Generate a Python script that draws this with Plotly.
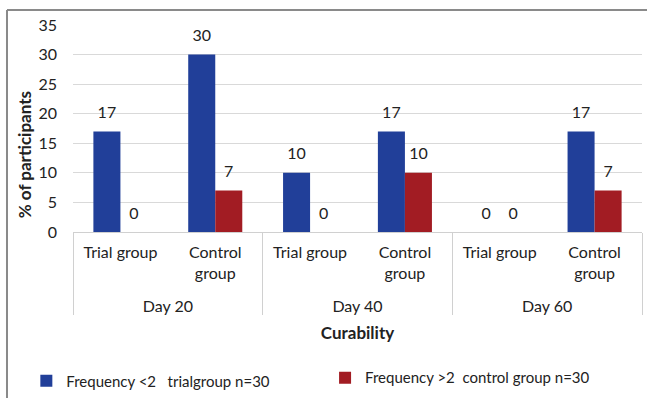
import plotly.graph_objects as go

days = ["Day 20", "Day 20", "Day 40", "Day 40", "Day 60", "Day 60"]
groups = ["Trial group", "Control<br>group"] * 3
freq_lt2 = [17, 30, 10, 17, 0, 17]
freq_gt2 = [0, 7, 0, 10, 0, 7]
series_names = ["Frequency &lt;2\u00a0\u00a0\u00a0trialgroup n=30",
                "Frequency &gt;2\u00a0\u00a0control group n=30"]
y_ticks = [0, 5, 10, 15, 20, 25, 30, 35]

BLUE = "#213F99"
RED = "#A21C23"
FONT = "Lato, 'Open Sans', sans-serif"
TXT = "#222"

# a near-invisible trailing line adds a little breathing room under a label
SPACER = "<br><span style='font-size:1px'>\u00a0</span>"


def bar_label(v):
    return f"<span style='font-size:16px'>{v}</span>{SPACER}"


group_labels = [g + SPACER if "<br>" in g else g for g in groups]

fig = go.Figure()
for i, (name, vals, col) in enumerate([(series_names[0], freq_lt2, BLUE),
                                       (series_names[1], freq_gt2, RED)]):
    fig.add_trace(go.Bar(
        x=[days, group_labels], y=vals, name=name,
        marker=dict(color=col, line=dict(width=0)),
        text=[bar_label(v) for v in vals], textposition="outside",
        textfont=dict(size=8, color=TXT), cliponaxis=False,
        legend="legend" if i == 0 else "legend2",
    ))

fig.update_layout(
    width=647, height=398,
    margin=dict(l=73, r=5, t=25, b=166, autoexpand=False),
    paper_bgcolor="white", plot_bgcolor="white",
    font=dict(family=FONT, size=16, color=TXT),
    barmode="group", bargap=0.43, bargroupgap=0,
    showlegend=True,
    legend=dict(x=-0.082, xanchor="left", y=-0.64, yanchor="top",
                font=dict(size=15, color=TXT), bgcolor="rgba(0,0,0,0)"),
    legend2=dict(x=0.443, xanchor="left", y=-0.625, yanchor="top",
                 font=dict(size=15, color=TXT), bgcolor="rgba(0,0,0,0)"),
    annotations=[
        dict(text="<b>% of participants</b>", xref="paper", yref="paper",
             x=-0.084, y=0.372, textangle=-90, showarrow=False,
             xanchor="center", yanchor="middle", font=dict(size=17, color=TXT)),
    ],
    shapes=[
        dict(type="line", xref="paper", yref="paper", x0=-0.116, x1=1.1, y0=1.072, y1=1.072,
             line=dict(color="#8a8a8a", width=2)),
        dict(type="line", xref="paper", yref="paper", x0=-0.116, x1=-0.116, y0=1.072, y1=-0.95,
             line=dict(color="#8a8a8a", width=2)),
    ],
)

fig.update_xaxes(
    type="multicategory", automargin=False,
    showline=True, linecolor="#d0d0d0", linewidth=1,
    showdividers=True, dividercolor="#d0d0d0", dividerwidth=1,
    ticks="", ticklabelstandoff=6, tickfont=dict(size=16, color=TXT),
    title=dict(text="<b>Curability</b>", font=dict(size=17, color=TXT), standoff=13),
)
fig.update_yaxes(
    automargin=False,
    range=[0, 35], tickvals=y_ticks, showgrid=True, gridcolor="#d9d9d9", gridwidth=1,
    zeroline=False, showline=False, ticks="", ticklabelstandoff=15,
    tickfont=dict(size=16, color=TXT),
)

fig.write_html("out.html")
